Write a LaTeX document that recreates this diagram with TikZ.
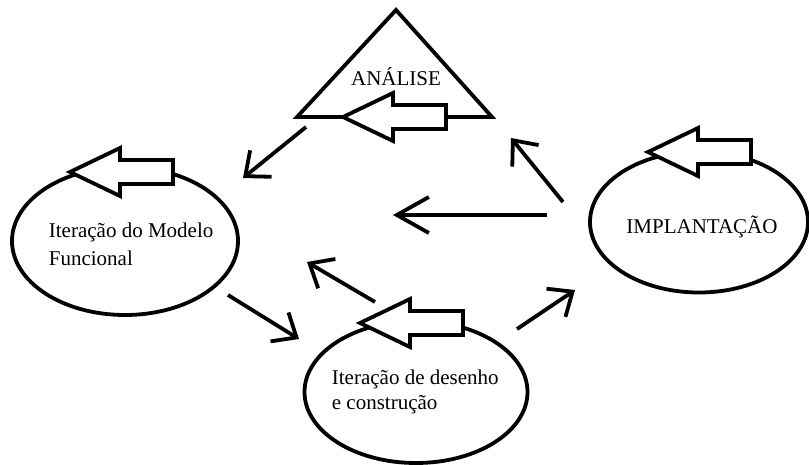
\documentclass[tikz,border=0pt]{standalone}
\usepackage{fontspec}
\setmainfont{Liberation Serif}
\usetikzlibrary{shapes.geometric,arrows.meta}

\tikzset{
  blockarrow/.pic={
    \draw[fill=white] (0,0) -- (50,-24) -- (50,-12) -- (103,-12)
      -- (103,12) -- (50,12) -- (50,24) -- cycle;
  },
}

\begin{document}
\begin{tikzpicture}[x=1pt,y=-1pt,line width=3.8pt,
    >={Straight Barb[length=20pt,width=34pt]}]
  \useasboundingbox (0,0) rectangle (809,464);
  % phases
  \begin{scope}[
    every node/.style={
      draw,
      ellipse,
      inner sep=0pt,
    },
    ]
    \node[minimum width=226, minimum height=148] (funcional)   at (125,241) {};
    \node[minimum width=218, minimum height=141] (implantacao) at (699,222) {};
    \node[minimum width=223, minimum height=142] (desenho)     at (416,392) {};
  \end{scope}
  \draw (396,10) coordinate (analise-top) -- (492,117) coordinate (analise-right)
    -- (297,117) coordinate (analise-left) -- cycle;
  % block arrows
  \pic at (343,117) {blockarrow};
  \pic at (70,172)  {blockarrow};
  \pic at (648,152) {blockarrow};
  \pic at (360,323) {blockarrow};
  % labels
  \begin{scope}[
    every node/.style={inner sep=0pt,font=\fontsize{21}{28}\selectfont},
    ]
    \node (analise-text)     at (396,77)  {ANÁLISE};
    \node (implantacao-text) at (702,227) {IMPLANTAÇÃO};
    \node[anchor=west,align=left] (funcional-text) at (47,244)
      {Iteração do Modelo\\Funcional};
    \node[anchor=west,align=left,font=\fontsize{21}{25}\selectfont] (desenho-text) at (330,392)
      {Iteração de desenho\\e construção};
  \end{scope}
  % flow
  \coordinate (analise-out)     at (306,127);
  \coordinate (funcional-in)    at (243,178);
  \coordinate (implantacao-out) at (547,215);
  \coordinate (centro-in)       at (393,215);
  \coordinate (implantacao-up)  at (563,202);
  \coordinate (analise-in)      at (511,138);
  \coordinate (desenho-out)     at (375,302);
  \coordinate (funcional-back)  at (307,262);
  \coordinate (funcional-out)   at (228,295);
  \coordinate (desenho-in)      at (299,339);
  \coordinate (desenho-up)      at (517,329);
  \coordinate (implantacao-in)  at (575,290);
  \begin{scope}[every edge/.style={draw,->}]
    \path
    (analise-out)     edge (funcional-in)
    (implantacao-out) edge[-{Straight Barb[length=32pt,width=36pt]}] (centro-in)
    (implantacao-up)  edge (analise-in)
    (desenho-out)     edge (funcional-back)
    (funcional-out)   edge (desenho-in)
    (desenho-up)      edge (implantacao-in);
  \end{scope}
\end{tikzpicture}
\end{document}
